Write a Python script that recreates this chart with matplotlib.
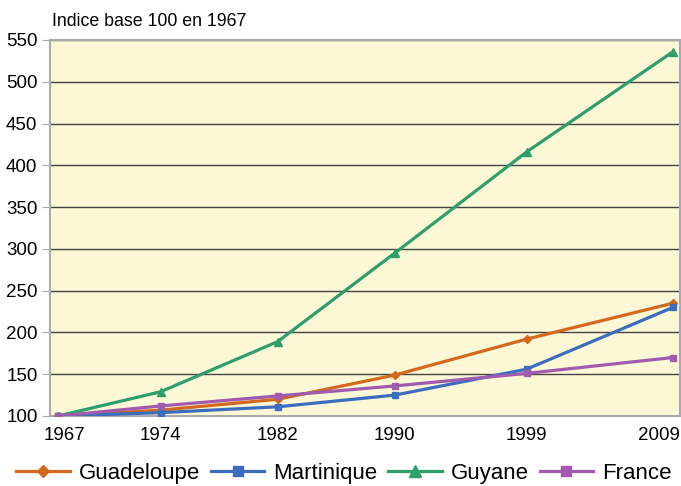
import matplotlib
matplotlib.use("Agg")
import matplotlib.pyplot as plt
from matplotlib.transforms import ScaledTranslation

years = [1967, 1974, 1982, 1990, 1999, 2009]
guadeloupe = [100, 107, 120, 149, 192, 235]
martinique = [100, 104, 111, 125, 156, 230]
guyane = [100, 129, 189, 295, 416, 536]
france = [100, 112, 124, 136, 151, 170]
yticks = [100, 150, 200, 250, 300, 350, 400, 450, 500, 550]

plt.rcParams['font.family'] = ['Liberation Sans', 'DejaVu Sans']

fig = plt.figure(figsize=(6.81, 4.86), dpi=100)
ax = fig.add_axes([50/681, 1-416/486, (680-50)/681, (416-40)/486])
ax.set_facecolor('#FCF8D6')

series = [
    ('Guadeloupe', guadeloupe, '#D2691E', 'D', 4.5),
    ('Martinique', martinique, '#3B6DBE', 's', 5),
    ('Guyane', guyane, '#2E9E6B', '^', 6),
    ('France', france, '#A05AAE', 's', 5),
]
for name, vals, col, mk, ms in series:
    ax.plot(years, vals, color=col, lw=2.3, marker=mk, ms=ms, label=name, zorder=3)

ax.set_xlim(1966.45, 2009.48)
ax.set_ylim(100, 550)
ax.set_yticks(yticks)
ax.set_xticks(years)
ax.yaxis.grid(True, color='#444444', lw=1)
ax.set_axisbelow(True)
for s in ax.spines.values():
    s.set_color('#AAAAAA')
    s.set_linewidth(1.5)
ax.tick_params(axis='y', length=6, color='#AAAAAA', labelsize=13.5, pad=3)
ax.tick_params(axis='x', length=0, labelsize=13.5, pad=8)

xl = ax.get_xticklabels()
xl[0].set_transform(xl[0].get_transform() + ScaledTranslation(6/100, 0, fig.dpi_scale_trans))
xl[-1].set_horizontalalignment('right')
xl[-1].set_transform(xl[-1].get_transform() + ScaledTranslation(7/100, 0, fig.dpi_scale_trans))

fig.text(52/681, 1-21/486, 'Indice base 100 en 1967', fontsize=12.8, va='center', ha='left')

fig.legend(loc='center', bbox_to_anchor=(344/681, 1-473/486),
           ncol=4, frameon=False, fontsize=16, handlelength=2.4, columnspacing=0.5,
           handletextpad=0.4, borderaxespad=0, borderpad=0, markerscale=1.4)

fig.savefig('out.png', dpi=100)
